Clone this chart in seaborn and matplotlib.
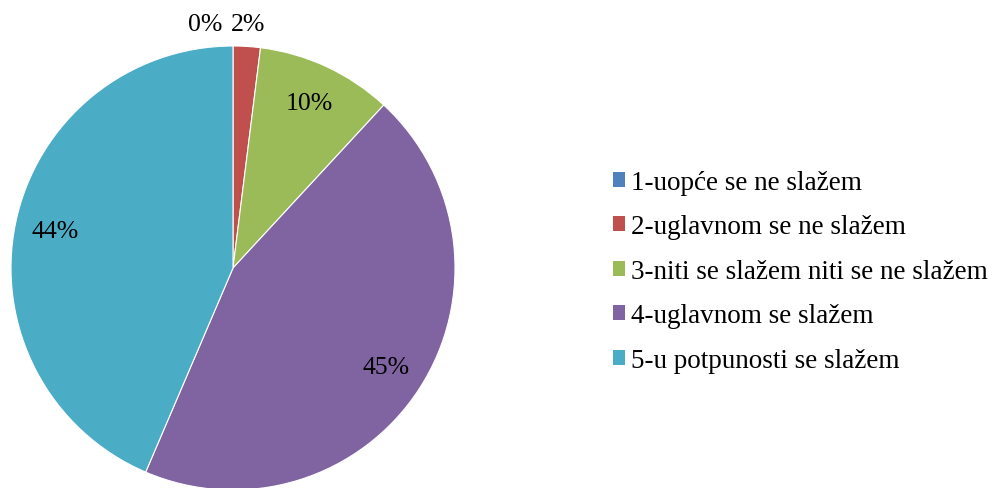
import numpy as np
import matplotlib
matplotlib.use("Agg")
import matplotlib.pyplot as plt
import matplotlib.patches as mpatches
import seaborn as sns

# --- data ---
categories = ["1-uopće se ne slažem", "2-uglavnom se ne slažem",
              "3-niti se slažem niti se ne slažem", "4-uglavnom se slažem",
              "5-u potpunosti se slažem"]
percent = [0, 2, 10, 45, 44]
colors = ["#4F81BD", "#C0504D", "#9BBB59", "#8064A2", "#4BACC6"]

sns.set_theme(style="white")
plt.rcParams["font.family"] = ["Liberation Serif", "DejaVu Serif"]
plt.rcParams["text.color"] = "black"

fig = plt.figure(figsize=(9.92, 4.89), dpi=100)
ax = fig.add_axes([11 / 992, -2 / 489, 444 / 992, 444 / 489])

wedges, _ = ax.pie(percent, colors=colors, startangle=90, counterclock=False,
                   radius=1, wedgeprops=dict(edgecolor="white", linewidth=0.8))
ax.set_xlim(-1, 1)
ax.set_ylim(-1, 1)
ax.set_aspect("equal")
ax.axis("off")

# percentage labels
for w, v in zip(wedges, percent):
    mid = np.deg2rad((w.theta1 + w.theta2) / 2)
    r = 1.1 if v < 5 else 0.82
    x, y = r * np.cos(mid), r * np.sin(mid)
    ha = "center"
    if v == 0:
        x, ha = -0.05, "right"
    ax.text(x, y, f"{v}%", ha=ha, va="center", fontsize=18.5, color="black")

handles = [mpatches.Patch(facecolor=c, edgecolor="none") for c in colors]
fig.legend(handles, categories, loc="center left", bbox_to_anchor=(0.618, 0.443),
           frameon=False, fontsize=19.5, handlelength=0.45, handleheight=0.45,
           handletextpad=0.22, labelspacing=0.72, borderpad=0, borderaxespad=0,
           labelcolor="black")

fig.savefig("out.png", dpi=100)
